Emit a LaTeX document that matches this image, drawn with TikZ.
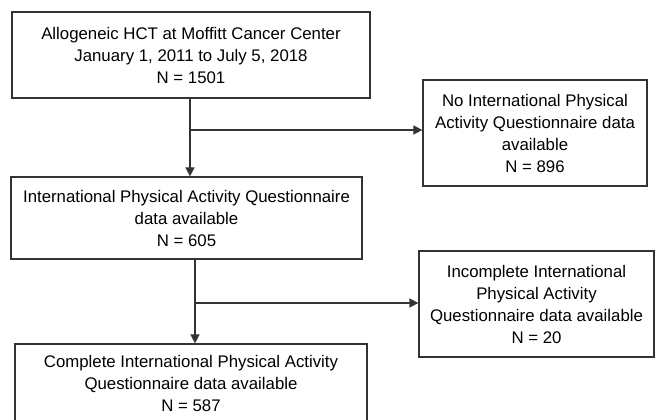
\documentclass[tikz,border=0pt]{standalone}
\usepackage{fontspec}
\setmainfont{Liberation Sans}
\usetikzlibrary{arrows.meta}
\definecolor{ln}{HTML}{333333}
\tikzset{
  box/.style={draw=ln, line width=1.3bp, rectangle, inner sep=0pt, align=center,
    font=\fontsize{16.8bp}{22bp}\selectfont, text=black},
  arr/.style={draw=ln, line width=1.6bp, -{Triangle[length=9bp,width=9bp]}},
  ln/.style={draw=ln, line width=1.5bp}
}
\begin{document}
\begin{tikzpicture}[x=1bp,y=-1bp]
\useasboundingbox (0,0) rectangle (655,419);
\clip (0,0) rectangle (655,419);
\node[box, minimum width=358bp, minimum height=86bp] (b1) at (191,55)
  {Allogeneic HCT at Moffitt Cancer Center\\January 1, 2011 to July 5, 2018\\N = 1501};
\node[box, minimum width=351bp, minimum height=82bp] (b2) at (186.5,218)
  {International Physical Activity Questionnaire\\data available\\N = 605};
\node[box, minimum width=224bp, minimum height=106bp] (b3) at (535,133)
  {No International Physical\\Activity Questionnaire data\\available\\N = 896};
\node[box, minimum width=352bp, minimum height=78bp] (b4) at (191,383)
  {Complete International Physical Activity\\Questionnaire data available\\N = 587};
\node[box, minimum width=235bp, minimum height=106bp] (b5) at (536.5,304)
  {Incomplete International\\Physical Activity\\Questionnaire data available\\N = 20};
\coordinate (s1) at ([xshift=-1bp]b1.south);
\coordinate (j1) at (190,130);
\draw[arr] (s1) -- (s1 |- b2.north);
\draw[arr] (j1) -- (j1 -| b3.west);
\coordinate (s2) at ([xshift=8.5bp]b2.south);
\coordinate (j2) at (195,303);
\draw[arr] (s2) -- (s2 |- b4.north);
\draw[arr] (j2) -- (j2 -| b5.west);
\end{tikzpicture}
\end{document}
